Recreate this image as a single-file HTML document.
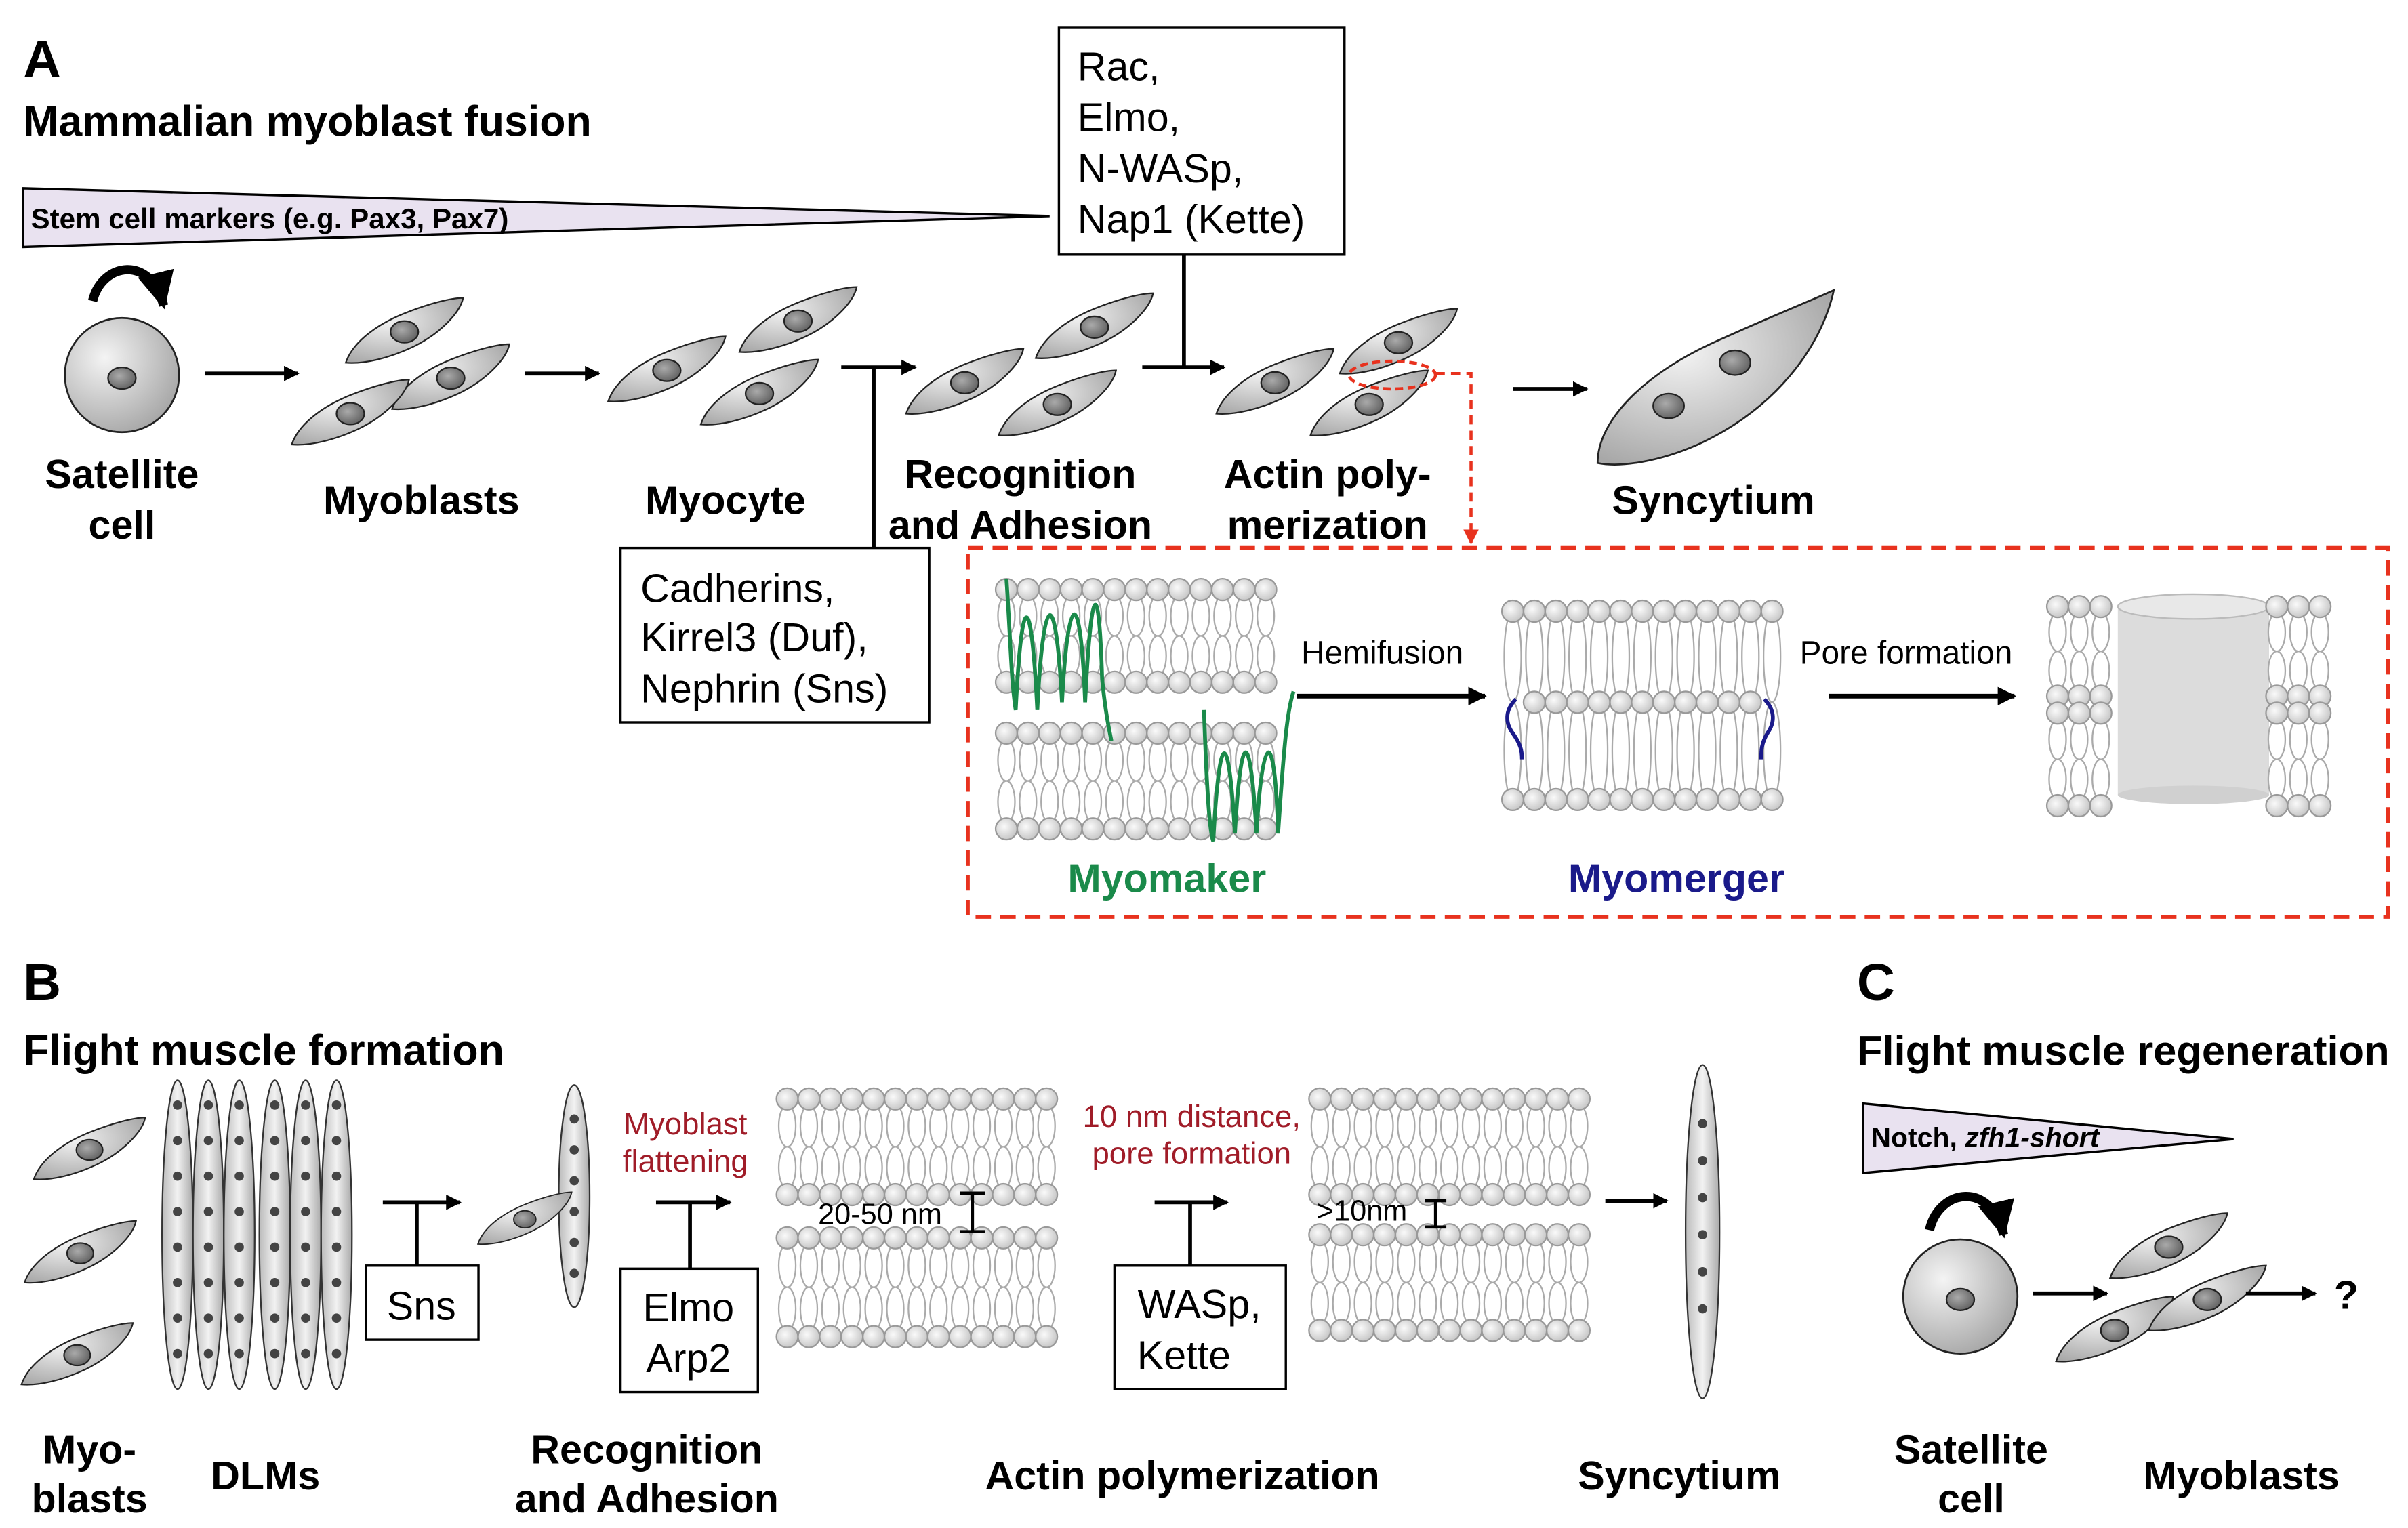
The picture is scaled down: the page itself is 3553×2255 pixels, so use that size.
<!DOCTYPE html>
<html><head><meta charset="utf-8"><style>
html,body{margin:0;padding:0;background:#fff;}
svg{display:block;}
text{font-family:"Liberation Sans",Arial,sans-serif;}
.b{font-weight:bold;}
</style></head><body>
<svg id="s" width="3553" height="2255" viewBox="0 0 1560 990" preserveAspectRatio="none" xmlns="http://www.w3.org/2000/svg">
<defs>
<radialGradient id="cg" cx="35%" cy="35%" r="70%"><stop offset="0" stop-color="#f4f4f4"/><stop offset="1" stop-color="#a8a8a8"/></radialGradient>
<radialGradient id="ng" cx="40%" cy="40%" r="60%"><stop offset="0" stop-color="#aaa"/><stop offset="1" stop-color="#666"/></radialGradient>
<radialGradient id="hg" cx="40%" cy="40%" r="60%"><stop offset="0" stop-color="#fafafa"/><stop offset="1" stop-color="#c8c8c8"/></radialGradient>
<linearGradient id="fg" x1="0" x2="1"><stop offset="0" stop-color="#bbb"/><stop offset="0.5" stop-color="#f2f2f2"/><stop offset="1" stop-color="#aaa"/></linearGradient>
<marker id="ar" viewBox="0 0 10 10" refX="9" refY="5" markerWidth="4" markerHeight="4" orient="auto"><path d="M0,0L10,5L0,10z" fill="#000"/></marker>
<marker id="arr" viewBox="0 0 10 10" refX="9" refY="5" markerWidth="5" markerHeight="5" orient="auto"><path d="M0,0L10,5L0,10z" fill="#e8321e"/></marker>
<g id="cell"><path d="M-38,20 C-34,8 -20,-4 0,-12 C15,-18 30,-22 38,-22 C36,-12 22,2 5,10 C-10,17 -26,21 -38,20Z" fill="url(#cg)" stroke="#222" stroke-width="1"/><ellipse cx="0" cy="0" rx="9" ry="7" fill="url(#ng)" stroke="#222" stroke-width="1"/></g>
</defs>

<!-- A -->
<text x="15" y="50" class="b" font-size="34">A</text>
<text x="15" y="88" class="b" font-size="27.5">Mammalian myoblast fusion</text>
<path d="M15,122 L680,140 L15,160Z" fill="#e9e2f0" stroke="#000" stroke-width="1.5"/>
<text x="20" y="148" class="b" font-size="18.5">Stem cell markers (e.g. Pax3, Pax7)</text>
<rect x="686" y="18" width="185" height="147" fill="#fff" stroke="#000" stroke-width="1.5"/>
<text font-size="26"><tspan x="698" y="52">Rac,</tspan><tspan x="698" y="85">Elmo,</tspan><tspan x="698" y="118">N-WASp,</tspan><tspan x="698" y="151">Nap1 (Kette)</tspan></text>

<circle cx="79" cy="243" r="37" fill="url(#cg)" stroke="#222" stroke-width="1.2"/>
<ellipse cx="79" cy="245" rx="9" ry="7" fill="url(#ng)" stroke="#222"/>
<path d="M60,195 C66,170 98,165 106,198" fill="none" stroke="#000" stroke-width="6" marker-end="url(#ar)"/>
<text x="79" y="316" class="b" font-size="26" text-anchor="middle">Satellite</text>
<text x="79" y="349" class="b" font-size="26" text-anchor="middle">cell</text>

<g stroke="#000" stroke-width="2.5" fill="none">
<line x1="133" y1="242" x2="193" y2="242" marker-end="url(#ar)"/>
<line x1="340" y1="242" x2="388" y2="242" marker-end="url(#ar)"/>
<line x1="545" y1="238" x2="593" y2="238" marker-end="url(#ar)"/>
<line x1="566" y1="238" x2="566" y2="355"/>
<line x1="740" y1="238" x2="793" y2="238" marker-end="url(#ar)"/>
<line x1="767" y1="165" x2="767" y2="238"/>
<line x1="980" y1="252" x2="1028" y2="252" marker-end="url(#ar)"/>
</g>
<use href="#cell" x="262" y="215"/><use href="#cell" x="292" y="245"/><use href="#cell" x="227" y="268"/>
<use href="#cell" x="517" y="208"/><use href="#cell" x="432" y="240"/><use href="#cell" x="492" y="255"/>
<use href="#cell" x="709" y="212"/><use href="#cell" x="625" y="248"/><use href="#cell" x="685" y="262"/>
<use href="#cell" x="906" y="222"/><use href="#cell" x="826" y="248"/><use href="#cell" x="887" y="262"/>
<path d="M1035,300 C1035,270 1070,240 1110,222 C1145,206 1175,194 1188,188 C1180,225 1150,265 1100,288 C1075,299 1050,303 1035,300Z" fill="url(#cg)" stroke="#222" stroke-width="1.2"/>
<ellipse cx="1124" cy="235" rx="10" ry="8" fill="url(#ng)" stroke="#222"/>
<ellipse cx="1081" cy="263" rx="10" ry="8" fill="url(#ng)" stroke="#222"/>
<ellipse cx="902" cy="243" rx="28" ry="9" fill="none" stroke="#e8321e" stroke-width="2" stroke-dasharray="5,3"/>
<path d="M930,242 L953,242 L953,352" fill="none" stroke="#e8321e" stroke-width="2" stroke-dasharray="6,4" marker-end="url(#arr)"/>

<text x="273" y="333" class="b" font-size="26" text-anchor="middle">Myoblasts</text>
<text x="470" y="333" class="b" font-size="26" text-anchor="middle">Myocyte</text>
<text x="661" y="316" class="b" font-size="26" text-anchor="middle">Recognition</text>
<text x="661" y="349" class="b" font-size="26" text-anchor="middle">and Adhesion</text>
<text x="860" y="316" class="b" font-size="26" text-anchor="middle">Actin poly-</text>
<text x="860" y="349" class="b" font-size="26" text-anchor="middle">merization</text>
<text x="1110" y="333" class="b" font-size="26" text-anchor="middle">Syncytium</text>

<rect x="402" y="355" width="200" height="113" fill="#fff" stroke="#000" stroke-width="1.5"/>
<text font-size="26"><tspan x="415" y="390">Cadherins,</tspan><tspan x="415" y="422">Kirrel3 (Duf),</tspan><tspan x="415" y="455">Nephrin (Sns)</tspan></text>

<rect x="627" y="355" width="920" height="239" fill="none" stroke="#e8321e" stroke-width="2.5" stroke-dasharray="10,6"/>
<g id="mem"></g>
<g fill="none" stroke="#1a8a4a" stroke-width="2.5">
<path d="M652,375 C655,420 655,440 658,460 C662,380 668,380 672,460 C676,380 684,378 688,455 C692,380 700,378 703,455 C707,375 712,372 714,440 C716,460 718,470 720,480"/>
<path d="M780,460 C782,520 784,540 786,545 C790,470 796,470 800,540 C804,470 810,470 814,540 C818,470 826,470 828,540 C832,480 834,460 838,448"/>
</g>
<g fill="none" stroke="#1a1a8a" stroke-width="2.5">
<path d="M982,453 C975,460 975,468 980,475 C985,482 986,486 986,492"/>
<path d="M1143,453 C1150,460 1150,468 1145,475 C1141,482 1141,486 1141,492"/>
</g>
<text x="843" y="430" font-size="21">Hemifusion</text>
<line x1="840" y1="451" x2="962" y2="451" stroke="#000" stroke-width="3" marker-end="url(#ar)"/>
<text x="1166" y="430" font-size="21">Pore formation</text>
<line x1="1185" y1="451" x2="1305" y2="451" stroke="#000" stroke-width="3" marker-end="url(#ar)"/>
<text x="756" y="578" class="b" font-size="26" fill="#1a8a4a" text-anchor="middle">Myomaker</text>
<text x="1086" y="578" class="b" font-size="26" fill="#1a1a8a" text-anchor="middle">Myomerger</text>

<!-- B -->
<text x="15" y="648" class="b" font-size="34">B</text>
<text x="15" y="690" class="b" font-size="27.5">Flight muscle formation</text>
<use href="#cell" transform="translate(58,745) scale(0.95)"/>
<use href="#cell" transform="translate(52,812) scale(0.95)"/>
<use href="#cell" transform="translate(50,878) scale(0.95)"/>
<g id="dlms"></g>
<g stroke="#000" stroke-width="2.5" fill="none">
<line x1="248" y1="779" x2="298" y2="779" marker-end="url(#ar)"/><line x1="270" y1="779" x2="270" y2="820"/>
<line x1="425" y1="779" x2="473" y2="779" marker-end="url(#ar)"/><line x1="447" y1="779" x2="447" y2="822"/>
<line x1="748" y1="779" x2="795" y2="779" marker-end="url(#ar)"/><line x1="771" y1="779" x2="771" y2="820"/>
<line x1="1040" y1="778" x2="1080" y2="778" marker-end="url(#ar)"/>
<path d="M630,773 V798 M622,773 H638 M622,798 H638 M930,778 V795 M923,778 H937 M923,795 H937" stroke-width="2"/>
</g>
<rect x="237" y="820" width="73" height="48" fill="#fff" stroke="#000" stroke-width="1.5"/>
<text x="273" y="855" font-size="26" text-anchor="middle">Sns</text>
<use href="#cell" transform="translate(340,790) scale(0.8)"/>
<rect x="402" y="822" width="89" height="80" fill="#fff" stroke="#000" stroke-width="1.5"/>
<text x="446" y="856" font-size="26" text-anchor="middle">Elmo</text><text x="446" y="889" font-size="26" text-anchor="middle">Arp2</text>
<rect x="722" y="820" width="111" height="80" fill="#fff" stroke="#000" stroke-width="1.5"/>
<text x="777" y="854" font-size="26" text-anchor="middle">WASp,</text><text x="767" y="887" font-size="26" text-anchor="middle">Kette</text>
<text x="444" y="735" font-size="20" fill="#a01c28" text-anchor="middle">Myoblast</text>
<text x="444" y="759" font-size="20" fill="#a01c28" text-anchor="middle">flattening</text>
<text x="772" y="730" font-size="20" fill="#a01c28" text-anchor="middle">10 nm distance,</text>
<text x="772" y="754" font-size="20" fill="#a01c28" text-anchor="middle">pore formation</text>
<text x="530" y="793" font-size="19">20-50 nm</text>
<text x="853" y="791" font-size="19">&gt;10nm</text>
<text x="58" y="948" class="b" font-size="26" text-anchor="middle">Myo-</text>
<text x="58" y="980" class="b" font-size="26" text-anchor="middle">blasts</text>
<text x="172" y="965" class="b" font-size="26" text-anchor="middle">DLMs</text>
<text x="419" y="948" class="b" font-size="26" text-anchor="middle">Recognition</text>
<text x="419" y="980" class="b" font-size="26" text-anchor="middle">and Adhesion</text>
<text x="766" y="965" class="b" font-size="26" text-anchor="middle">Actin polymerization</text>
<text x="1088" y="965" class="b" font-size="26" text-anchor="middle">Syncytium</text>

<!-- C -->
<text x="1203" y="648" class="b" font-size="34">C</text>
<text x="1203" y="690" class="b" font-size="27">Flight muscle regeneration</text>
<path d="M1207,715 L1447,738 L1207,760Z" fill="#e9e2f0" stroke="#000" stroke-width="1.5"/>
<text x="1212" y="743" class="b" font-size="18">Notch, <tspan font-style="italic">zfh1-short</tspan></text>
<circle cx="1270" cy="840" r="37" fill="url(#cg)" stroke="#222" stroke-width="1.2"/>
<ellipse cx="1270" cy="842" rx="9" ry="7" fill="url(#ng)" stroke="#222"/>
<path d="M1250,797 C1256,770 1290,765 1298,800" fill="none" stroke="#000" stroke-width="6" marker-end="url(#ar)"/>
<line x1="1317" y1="838" x2="1365" y2="838" stroke="#000" stroke-width="2.5" marker-end="url(#ar)"/>
<use href="#cell" x="1405" y="808"/><use href="#cell" x="1370" y="862"/><use href="#cell" x="1430" y="842"/>
<line x1="1455" y1="838" x2="1500" y2="838" stroke="#000" stroke-width="2.5" marker-end="url(#ar)"/>
<text x="1520" y="848" class="b" font-size="26" text-anchor="middle">?</text>
<text x="1277" y="948" class="b" font-size="26" text-anchor="middle">Satellite</text>
<text x="1277" y="980" class="b" font-size="26" text-anchor="middle">cell</text>
<text x="1452" y="965" class="b" font-size="26" text-anchor="middle">Myoblasts</text>
</svg>
<script>
var NS="http://www.w3.org/2000/svg";
function el(p,t,a){var e=document.createElementNS(NS,t);for(var k in a)e.setAttribute(k,a[k]);p.appendChild(e);return e;}
var mem=document.getElementById("mem");
var SP=14,HR=7;
function heads(g,x0,x1,y){for(var x=x0;x<=x1+0.1;x+=SP)el(g,"circle",{cx:x,cy:y,r:HR,fill:"url(#hg)",stroke:"#999","stroke-width":1});}
function tails(g,x0,x1,y0,y1){var c=(y0+y1)/2,r=(y1-y0)/2;for(var x=x0;x<=x1+0.1;x+=SP)el(g,"ellipse",{cx:x,cy:c,rx:5.5,ry:r,fill:"#fff",stroke:"#aaa","stroke-width":1});}
function bil(g,x0,x1,y,h){tails(g,x0,x1,y+4,y+h/2);tails(g,x0,x1,y+h/2,y+h-4);heads(g,x0,x1,y);heads(g,x0,x1,y+h);}
// Myomaker
bil(mem,652,828,382,60);bil(mem,652,828,475,62);
// hemifused
tails(mem,980,1152,396,455);tails(mem,980,1152,455,518);heads(mem,980,1152,396);heads(mem,994,1138,455);heads(mem,980,1152,518);
// pore
el(mem,"rect",{x:1372,y:393,width:98,height:122,fill:"#dcdcdc"});
el(mem,"ellipse",{cx:1421,cy:393,rx:49,ry:8,fill:"#e8e8e8",stroke:"#bbb"});
el(mem,"ellipse",{cx:1421,cy:515,rx:49,ry:6,fill:"#d0d0d0"});
[[1333,1361],[1475,1503]].forEach(function(p){bil(mem,p[0],p[1],393,58);bil(mem,p[0],p[1],462,60);});
// B membranes
bil(mem,510,688,712,62);bil(mem,510,688,802,64);
bil(mem,855,1036,712,62);bil(mem,855,1036,800,62);
// DLMs and fibers
var d=document.getElementById("dlms");
function fiber(cx,cy,ry,rx,y0,y1,st){el(d,"ellipse",{cx:cx,cy:cy,rx:rx,ry:ry,fill:"url(#fg)",stroke:"#333","stroke-width":1});for(var y=y0;y<=y1;y+=st)el(d,"circle",{cx:cx,cy:y,r:3,fill:"#444"});}
[115,135,155,178,198,218].forEach(function(x){fiber(x,800,100,10,716,880,23);});
fiber(372,775,72,10,725,825,20);
fiber(1103,798,108,11,728,870,24);
</script>
</body></html>
